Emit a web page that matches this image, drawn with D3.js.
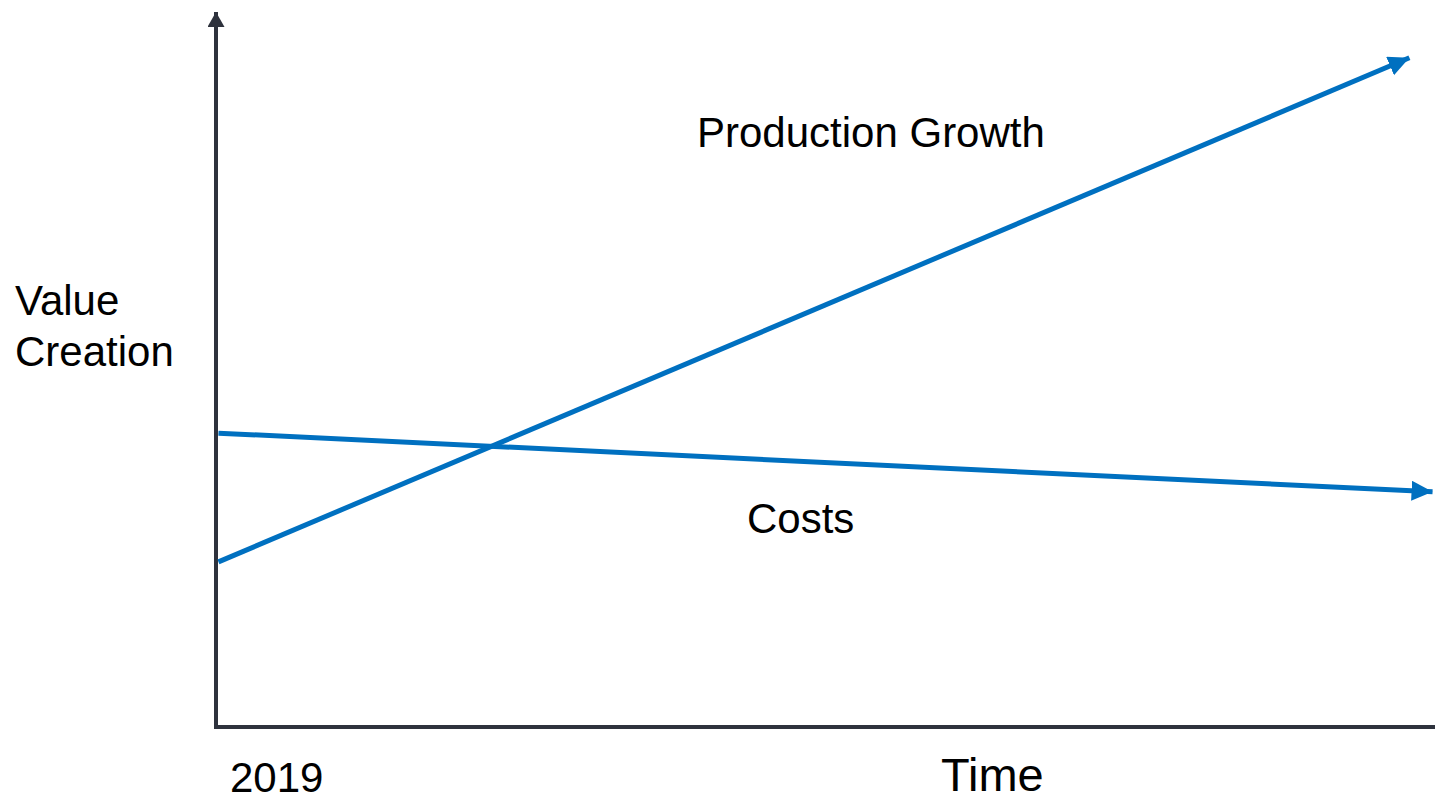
<!DOCTYPE html>
<html>
<head>
<meta charset="utf-8">
<script src="https://cdn.jsdelivr.net/npm/d3@7"></script>
<style>
  html, body { margin: 0; padding: 0; background: #fff; }
  svg { display: block; }
  text { font-family: "Liberation Sans", Arial, sans-serif; fill: #000; }
</style>
</head>
<body>
<svg id="chart" width="1435" height="802"></svg>
<script>
// ---- data ----
const seriesNames = ["Production Growth", "Costs"];
const productionTimes = [0.02, 9.79];
const productionValues = [23.1, 93.6];
const costsTimes = [0.02, 9.98];
const costsValues = [41.1, 32.9];
const xTickLabels = ["2019"];
const xAxisTitle = "Time";
const yAxisTitle = ["Value", "Creation"];

// ---- layout ----
const svg = d3.select("#chart");
const x = d3.scaleLinear().domain([0, 10]).range([216, 1435]);
const y = d3.scaleLinear().domain([0, 100]).range([727, 12]);

const defs = svg.append("defs");
defs.append("marker")
  .attr("id", "axisHead").attr("markerUnits", "userSpaceOnUse")
  .attr("markerWidth", 18).attr("markerHeight", 18)
  .attr("refX", 15).attr("refY", 8.5).attr("orient", "auto")
  .attr("viewBox", "0 0 18 18")
  .append("path").attr("d", "M0,0 L15,8.5 L0,17 Z").attr("fill", "#2e323d");
defs.append("marker")
  .attr("id", "blueHead").attr("markerUnits", "userSpaceOnUse")
  .attr("markerWidth", 24).attr("markerHeight", 22)
  .attr("refX", 21).attr("refY", 10).attr("orient", "auto")
  .attr("viewBox", "0 0 24 22")
  .append("path").attr("d", "M0,0 L21,10 L0,20 Z").attr("fill", "#0070c0");

// axes
svg.append("line")
  .attr("x1", x(0)).attr("y1", y(0) + 2)
  .attr("x2", x(0)).attr("y2", y(100))
  .attr("stroke", "#2e323d").attr("stroke-width", 4)
  .attr("marker-end", "url(#axisHead)");
svg.append("line")
  .attr("x1", x(0) - 2).attr("y1", y(0))
  .attr("x2", x(10)).attr("y2", y(0))
  .attr("stroke", "#2e323d").attr("stroke-width", 4);

// series
const line = d3.line().x(d => x(d[0])).y(d => y(d[1]));
const seriesData = [
  d3.zip(productionTimes, productionValues),
  d3.zip(costsTimes, costsValues)
];
svg.selectAll("path.series").data(seriesData).join("path")
  .attr("class", "series")
  .attr("d", line)
  .attr("fill", "none")
  .attr("stroke", "#0070c0")
  .attr("stroke-width", 5)
  .attr("marker-end", "url(#blueHead)");

// labels
svg.append("text").attr("x", 697).attr("y", 147)
  .attr("font-size", 42).text(seriesNames[0]);
svg.append("text").attr("x", 747).attr("y", 533)
  .attr("font-size", 42).text(seriesNames[1]);

svg.append("text").attr("x", 15).attr("y", 315).attr("font-size", 42).text(yAxisTitle[0]);
svg.append("text").attr("x", 15).attr("y", 366).attr("font-size", 42).text(yAxisTitle[1]);

svg.append("text").attr("x", 230).attr("y", 792).attr("font-size", 42).text(xTickLabels[0]);
svg.append("text").attr("x", 941).attr("y", 791).attr("font-size", 47).text(xAxisTitle);
</script>
</body>
</html>
